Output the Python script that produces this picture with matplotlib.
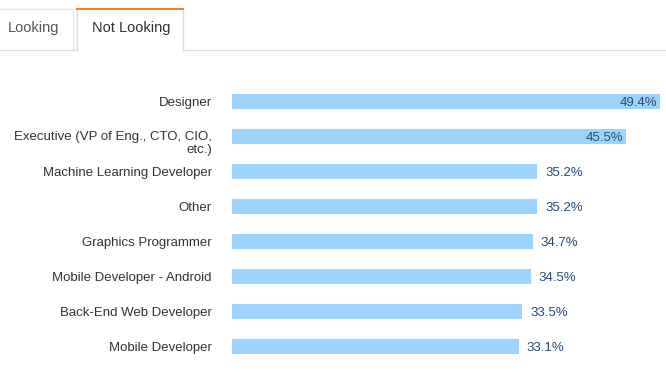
import matplotlib
matplotlib.use("Agg")
import matplotlib.pyplot as plt
from matplotlib.lines import Line2D
from matplotlib.transforms import ScaledTranslation

plt.rcParams['font.family'] = ['Liberation Sans', 'DejaVu Sans']

categories = ["Designer", "Executive (VP of Eng., CTO, CIO,\netc.)", "Machine Learning Developer",
              "Other", "Graphics Programmer", "Mobile Developer - Android",
              "Back-End Web Developer", "Mobile Developer"]
values = [49.4, 45.5, 35.2, 35.2, 34.7, 34.5, 33.5, 33.1]
tabs = ["Looking", "Not Looking"]

W, H = 666, 387
fig = plt.figure(figsize=(W / 100, H / 100), dpi=100)

def fx(x): return x / W
def fy(y): return 1 - y / H

border = "#dddddd"
fig.add_artist(Line2D([fx(0), fx(77)], [fy(50), fy(50)], color=border, lw=1))
fig.add_artist(Line2D([fx(183), fx(666)], [fy(50), fy(50)], color=border, lw=1))
fig.add_artist(Line2D([fx(0), fx(73), fx(73)], [fy(9), fy(9), fy(50)], color="#e6e6e6", lw=1))
fig.text(fx(8), fy(28), tabs[0], fontsize=10.5, color="#555555", va="center", ha="left")
fig.add_artist(Line2D([fx(77), fx(77)], [fy(9), fy(50)], color=border, lw=1))
fig.add_artist(Line2D([fx(183), fx(183)], [fy(9), fy(50)], color=border, lw=1))
fig.add_artist(Line2D([fx(77), fx(183)], [fy(8.5), fy(8.5)], color="#f48024", lw=1.5))
fig.text(fx(92), fy(28), tabs[1], fontsize=10.5, color="#333333", va="center", ha="left")

scale = (660 - 232) / 49.4  # px per percent
ax = fig.add_axes([fx(232), fy(364), (W - 232) / W, 280 / H])
ax.set_xlim(0, (W - 232) / scale)
ax.set_ylim(len(categories) - 0.5, -0.5)
ypos = list(range(len(categories)))
ax.barh(ypos, values, height=15 / 35, color="#9cd3ff")
ax.set_yticks(ypos)
ax.set_yticklabels(categories, fontsize=9.5, color="#333333", linespacing=1.1)
ax.tick_params(axis="y", length=0, pad=14.4)
ax.set_xticks([])
for s in ax.spines.values():
    s.set_visible(False)

fig.canvas.draw()
for lab in ax.get_yticklabels():
    if "\n" in lab.get_text():
        lab.set_transform(lab.get_transform() + ScaledTranslation(0, -5 / 100, fig.dpi_scale_trans))

for y, v in zip(ypos, values):
    if v > 40:
        ax.text(v - 3 / scale, y + 0.03, f"{v}%", ha="right", va="center", fontsize=9.5, color="#2a4a7a")
    else:
        ax.text(v + 8 / scale, y + 0.03, f"{v}%", ha="left", va="center", fontsize=9.5, color="#2a4a7a")

fig.savefig("out.png", dpi=100)
